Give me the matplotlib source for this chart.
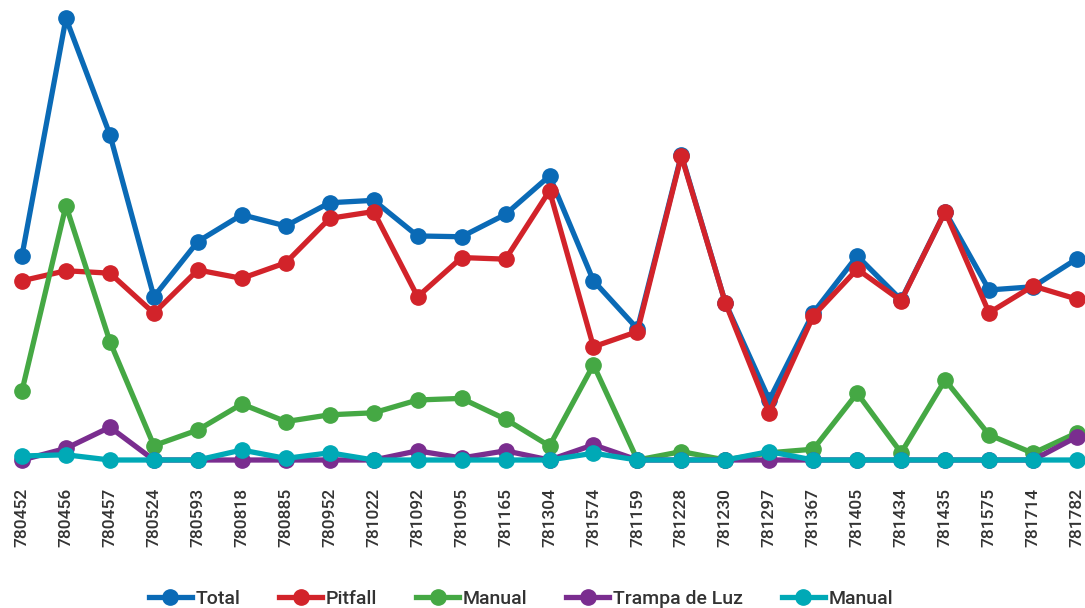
import matplotlib
matplotlib.use("Agg")
import matplotlib.pyplot as plt
from matplotlib.lines import Line2D

plt.rcParams['font.family'] = ['Roboto', 'DejaVu Sans']

stations = ["780452", "780456", "780457", "780524", "780593", "780818", "780885",
            "780952", "781022", "781092", "781095", "781165", "781304", "781574",
            "781159", "781228", "781230", "781297", "781367", "781405", "781434",
            "781435", "781575", "781714", "781782"]

total = [51.1, 110.4, 81.3, 40.8, 54.6, 61.3, 58.5, 64.3, 64.9, 56.0, 55.8, 61.4, 71.0,
         44.8, 32.8, 76.3, 39.3, 15.0, 36.8, 51.0, 40.0, 62.1, 42.5, 43.3, 50.3]
pitfall = [44.8, 47.3, 46.7, 36.7, 47.5, 45.4, 49.3, 60.4, 62.1, 40.8, 50.6, 50.2, 67.3,
           28.3, 32.1, 76.0, 39.3, 11.8, 36.0, 47.7, 39.8, 62.1, 36.8, 43.5, 40.2]
manual = [17.3, 63.6, 29.6, 3.6, 7.5, 14.0, 9.6, 11.3, 11.8, 15.0, 15.4, 10.2, 3.5,
          23.8, 0.0, 2.1, 0.0, 1.8, 2.7, 16.7, 1.8, 20.0, 6.3, 1.7, 6.8]
trampa_luz = [0.0, 2.9, 8.2, 0.0, 0.0, 0.0, 0.0, 0.0, 0.0, 2.3, 0.5, 2.3, 0.0,
              3.8, 0.0, 0.0, 0.0, 0.0, 0.0, 0.0, 0.0, 0.0, 0.0, 0.0, 5.8]
manual_2 = [1.0, 1.3, 0.0, 0.0, 0.0, 2.5, 0.4, 1.8, 0.0, 0.0, 0.0, 0.0, 0.0,
            1.7, 0.0, 0.0, 0.0, 2.1, 0.0, 0.0, 0.0, 0.0, 0.0, 0.0, 0.0]

series = [
    ("Total", total, "#0a6ab6"),
    ("Pitfall", pitfall, "#d2232a"),
    ("Manual", manual, "#45a844"),
    ("Trampa de Luz", trampa_luz, "#7a2d8f"),
    ("Manual", manual_2, "#00a9b6"),
]

W, H = 1085, 608
fig = plt.figure(figsize=(W / 100, H / 100), dpi=100)
left, right = 22 / W, 1077 / W
bottom, top = (H - 460) / H, (H - 18.3) / H
ax = fig.add_axes([left, bottom, right - left, top - bottom])

x = list(range(len(stations)))
handles = []
for name, vals, color in series:
    ax.plot(x, vals, color=color, lw=3.8, marker="o", ms=11, clip_on=False,
            solid_joinstyle="round", solid_capstyle="round")
    handles.append(Line2D([0], [0], color=color, lw=3.8, marker="o", ms=11))

ax.set_xlim(0, len(stations) - 1)
ax.set_ylim(0, max(total))
ax.set_xticks(x)
ax.set_xticklabels(stations, rotation=90, fontsize=12.5, color="#333333",
                   fontweight="medium")
ax.tick_params(axis="x", length=0, pad=20)
ax.set_yticks([])
for s in ax.spines.values():
    s.set_visible(False)

leg = fig.legend(handles, [s[0] for s in series], loc="center",
                 bbox_to_anchor=(521 / W, 1 - 599 / H), ncol=5, frameon=False,
                 fontsize=14, handlelength=2.2, handletextpad=0.2,
                 columnspacing=2.0, labelcolor="#333333", borderpad=0)
for t in leg.get_texts():
    t.set_fontweight("medium")

fig.savefig("out.png", dpi=100)
